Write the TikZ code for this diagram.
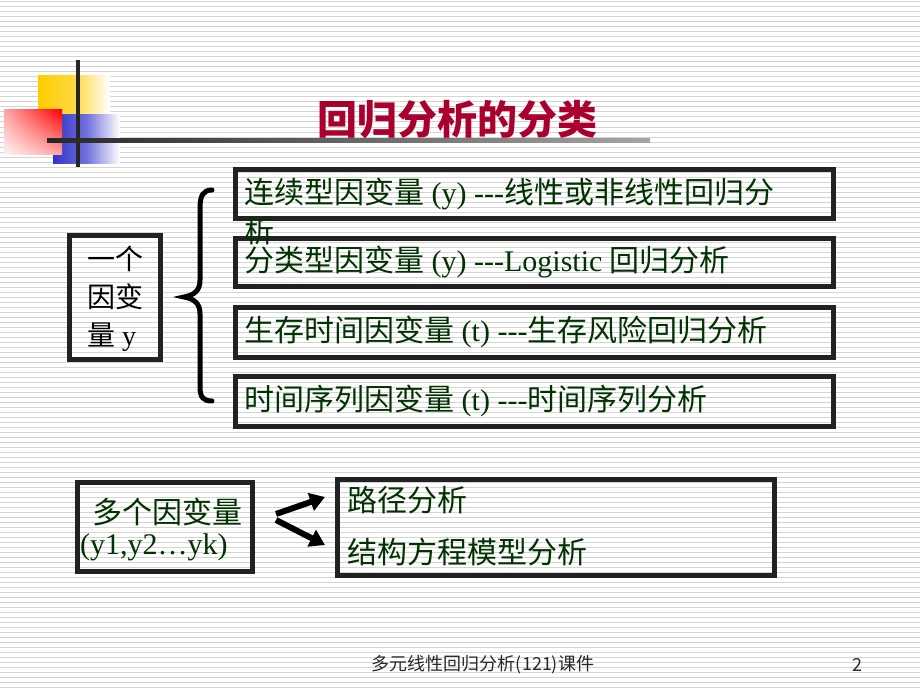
\documentclass[tikz,border=0pt]{standalone}
\usepackage{fontspec}
\setmainfont{Liberation Serif}
\newfontfamily\cjk{Noto Sans CJK SC}
\usetikzlibrary{arrows.meta,shadings}
\newcommand\CJ[1]{{\cjk #1}}
\newcommand\dashes{\mbox{-}\mbox{-}\mbox{-}}
\definecolor{txtgreen}{RGB}{0,51,0}
\definecolor{titlered}{RGB}{170,0,45}
\definecolor{boxline}{RGB}{34,34,34}
\definecolor{stripe}{RGB}{212,212,212}
\definecolor{footgray}{RGB}{40,40,40}
\definecolor{decoyellow}{RGB}{255,204,0}
\definecolor{decoblue}{RGB}{51,51,204}
\tikzset{
  catbox/.style={draw=boxline, line width=5pt, inner sep=0pt},
  boxtxt/.style={anchor=west, inner sep=0pt, text=txtgreen, font=\fontsize{30}{36}\selectfont},
  bigarrow/.style={line width=6pt, draw=black, -{Triangle[length=15pt,width=18pt]}},
  bracestyle/.style={line width=5pt, draw=black, line cap=round}
}
\begin{document}
\begin{tikzpicture}[x=1pt,y=-1pt]
\useasboundingbox (0,0) rectangle (920,690);
\fill[white] (0,0) rectangle (920,690);
\foreach \yy in {2,7,...,687} \draw[stripe, line width=1pt] (0,\yy) -- (920,\yy);

% decoration
\shade[left color=decoyellow, right color=white, middle color=decoyellow!75!white] (38,76) rectangle (110,118);
\shade[left color=decoblue, right color=white, middle color=decoblue!70!white] (53,115) rectangle (120,163);
\shade[upper right=red, upper left=red!35!white, lower right=red!35!white, lower left=red!5!white] (4,110) rectangle (62,154);
\fill[black!85] (76,60) rectangle (80,167);
\shade[left color=black!85, right color=black!35] (47,138) rectangle (650,142);

% title
\node[text=titlered, font=\cjk\bfseries\fontsize{40}{44}\selectfont] (title) at (457,120) {回归分析的分类};

% category boxes
\node[catbox, minimum width=598pt, minimum height=49pt] (b1) at (534.5,194) {};
\node[catbox, minimum width=598pt, minimum height=48pt] (b2) at (534.5,262.5) {};
\node[catbox, minimum width=598pt, minimum height=50pt] (b3) at (534.5,332.5) {};
\node[catbox, minimum width=598pt, minimum height=50pt] (b4) at (534.5,401.5) {};

\node[boxtxt] (t1) at (244,194) {\CJ{连续型因变量} (y) \dashes\CJ{线性或非线性回归分}};
\node[boxtxt] (t1b) at (244,231) {\CJ{析}};
\node[boxtxt] (t2) at (244,262) {\CJ{分类型因变量} (y) \dashes Logistic \CJ{回归分析}};
\node[boxtxt] (t3) at (244,332) {\CJ{生存时间因变量} (t) \dashes\CJ{生存风险回归分析}};
\node[boxtxt] (t4) at (244,401) {\CJ{时间序列因变量} (t) \dashes\CJ{时间序列分析}};

% single dependent variable
\node[catbox, minimum width=91pt, minimum height=124pt] (single) at (115,297.5) {};
\node[anchor=north west, inner sep=0pt, align=left, font=\fontsize{28}{38}\selectfont] (singletxt) at (87,246) {\CJ{一个}\\\CJ{因变}\\\CJ{量} y};

% brace
\draw[bracestyle] (212,190) .. controls (203,190) and (200,196) .. (200,208) -- (200,280) .. controls (200,290) and (195,295) .. (184,297) .. controls (195,299) and (200,304) .. (200,314) -- (200,387) .. controls (200,397) and (203,401) .. (212,401);

% multiple dependent variables
\node[catbox, minimum width=175pt, minimum height=89pt] (multi) at (165,527) {};
\node[inner sep=0pt, text=txtgreen, font=\fontsize{30}{36}\selectfont] (m1) at (167,512) {\CJ{多个因变量}};
\node[anchor=west, inner sep=0pt, text=txtgreen, font=\fontsize{30}{36}\selectfont] (m2) at (80,547) {(y1,y2…yk)};

\node[catbox, minimum width=437pt, minimum height=96pt] (methods) at (556,527.5) {};
\node[boxtxt] (p1) at (347,500) {\CJ{路径分析}};
\node[boxtxt] (p2) at (347,552) {\CJ{结构方程模型分析}};

\coordinate (a1s) at (276,514);
\coordinate (a1e) at (325,497);
\coordinate (a2s) at (276,520);
\coordinate (a2e) at (325,545);
\draw[bigarrow] (a1s) -- (a1e);
\draw[bigarrow] (a2s) -- (a2e);

% footer
\node[text=footgray, font=\cjk\fontsize{18}{20}\selectfont] (footer) at (483,665) {多元线性回归分析(121)课件};
\node[text=footgray, font=\cjk\fontsize{18}{20}\selectfont] (pagenum) at (857,665) {2};
\end{tikzpicture}
\end{document}
